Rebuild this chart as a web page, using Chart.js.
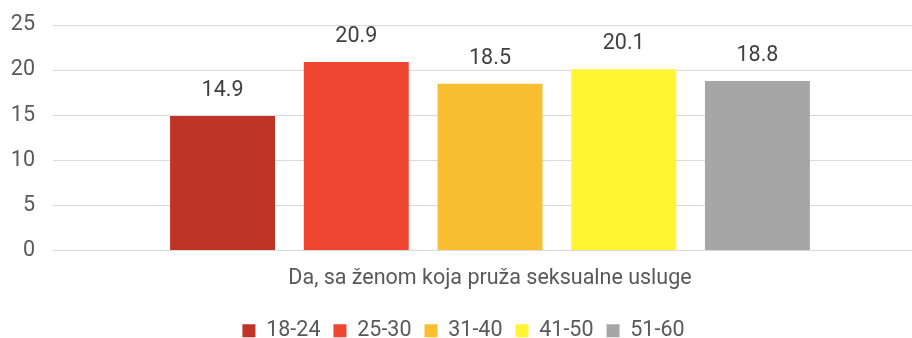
<!DOCTYPE html>
<html>
<head>
<meta charset="utf-8">
<script src="https://cdn.jsdelivr.net/npm/chart.js@4"></script>
<style>
  html, body { margin: 0; padding: 0; background: #fff; overflow: hidden; }
  #wrap { width: 958px; height: 338px; }
</style>
</head>
<body>
<div id="wrap"><canvas id="ageChart"></canvas></div>
<script>
var categories = ['Da, sa ženom koja pruža seksualne usluge'];
var ageGroups = ['18-24', '25-30', '31-40', '41-50', '51-60'];
var values = [14.9, 20.9, 18.5, 20.1, 18.8];
var colors = ['#BE3527', '#EE4630', '#F9BE32', '#FFF533', '#A6A6A6'];
var yTicks = [0, 5, 10, 15, 20, 25];

var textColor = '#595959';
var fontFamily = 'Roboto, "Noto Sans", sans-serif';
var fontSize = 21.5;

// value above each bar
var barValues = {
    id: 'barValues',
    afterDatasetsDraw: function (chart) {
        var ctx = chart.ctx;
        ctx.save();
        ctx.font = fontSize + 'px ' + fontFamily;
        ctx.fillStyle = '#404040';
        ctx.textAlign = 'center';
        ctx.textBaseline = 'alphabetic';
        chart.data.datasets.forEach(function (ds, i) {
            chart.getDatasetMeta(i).data.forEach(function (bar, j) {
                ctx.fillText(ds.data[j].toFixed(1), bar.x, bar.y - 20);
            });
        });
        ctx.restore();
    }
};

// keep the legend strip a fixed height
var legendHeight = {
    id: 'legendHeight',
    beforeUpdate: function (chart) {
        var lg = chart.legend;
        if (lg && !lg._fixedFit) {
            var fit = lg.fit;
            lg.fit = function () {
                fit.call(this);
                this.height = 31;
            };
            lg._fixedFit = true;
        }
    }
};

var datasets = ageGroups.map(function (name, i) {
    return {
        label: name,
        data: [values[i]],
        backgroundColor: colors[i],
        categoryPercentage: 0.765,
        barPercentage: 0.785
    };
});

new Chart(document.getElementById('ageChart'), {
    type: 'bar',
    data: { labels: categories, datasets: datasets },
    plugins: [barValues, legendHeight],
    options: {
        responsive: true,
        maintainAspectRatio: false,
        animation: false,
        layout: { padding: { top: 25, right: 31, left: 0, bottom: 0 } },
        plugins: {
            legend: {
                position: 'bottom',
                labels: {
                    boxWidth: 13,
                    boxHeight: 13,
                    padding: 13,
                    color: textColor,
                    font: { family: fontFamily, size: fontSize }
                }
            },
            tooltip: { enabled: false }
        },
        scales: {
            x: {
                grid: { display: false },
                border: { display: false },
                ticks: {
                    color: textColor,
                    padding: 7,
                    font: { family: fontFamily, size: fontSize }
                },
                afterFit: function (scale) { scale.height = 56.5; }
            },
            y: {
                min: 0,
                max: 25,
                afterBuildTicks: function (scale) {
                    scale.ticks = yTicks.map(function (v) { return { value: v }; });
                },
                // invisible tick marks keep the labels off the plot without extra top padding
                grid: { color: '#D9D9D9', lineWidth: 1, tickLength: 8, tickColor: 'rgba(0,0,0,0)' },
                border: { display: false },
                ticks: {
                    color: textColor,
                    padding: 10,
                    font: { family: fontFamily, size: fontSize }
                },
                afterFit: function (scale) { scale.width = 53; }
            }
        }
    }
});
</script>
</body>
</html>
